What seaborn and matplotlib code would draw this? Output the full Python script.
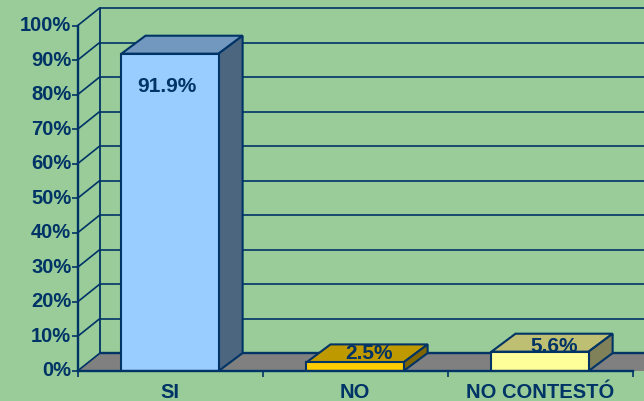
import matplotlib
matplotlib.use('Agg')
import matplotlib.pyplot as plt
import seaborn as sns
import pandas as pd
from matplotlib.patches import Polygon

categorias = ['SI', 'NO', 'NO CONTESTÓ']
valores = [91.9, 2.5, 5.6]
etiquetas = ['91.9%', '2.5%', '5.6%']
ticks_y = [0, 10, 20, 30, 40, 50, 60, 70, 80, 90, 100]

color_frente = ['#99CCFF', '#FFCC00', '#FFFF99']
color_arriba = ['#7298BF', '#BF9900', '#BFBF73']
color_lado = ['#4D6680', '#806600', '#808059']
fondo = '#99CC99'
azul = '#003366'
piso = '#808080'

# profundidad del falso 3D, en unidades de datos
dx = 0.119
dy = 5.1
dx_barra = 0.13
dy_barra = 5.2
desde_etiqueta = [(-3, -33), (14, 9), (14, 5)]

sns.set_style('white')
plt.rcParams['font.family'] = ['Liberation Sans', 'DejaVu Sans']

df = pd.DataFrame({'categoria': categorias, 'valor': valores})

fig = plt.figure(figsize=(6.44, 4.01), dpi=100, facecolor=fondo)
ax = fig.add_axes([77.5 / 644, 1 - 371 / 401, 566.5 / 644, 345.3 / 401], facecolor='none')

sns.barplot(data=df, x='categoria', y='valor', hue='categoria', palette=color_frente,
            width=0.525, saturation=1, edgecolor=azul, linewidth=1.5, legend=False,
            errorbar=None, zorder=5, ax=ax)

izq, der = -0.5, 2.562
ax.set_xlim(izq, der)
ax.set_ylim(0, 100)

# piso y paredes
ax.add_patch(Polygon([(izq, 0), (izq + dx, dy), (der + dx, dy), (der, 0)], closed=True,
                     facecolor=piso, edgecolor='none', zorder=1, clip_on=False))
ax.plot([izq + dx, der], [dy, dy], color=azul, lw=1.7, zorder=2)
ax.plot([izq, izq + dx], [0, dy], color=azul, lw=1.2, zorder=2, clip_on=False)
ax.plot([izq + dx, izq + dx], [dy, 100 + dy], color=azul, lw=1.3, zorder=2, clip_on=False)
for t in ticks_y[1:]:
    ax.plot([izq, izq + dx], [t, t + dy], color=azul, lw=1.2, zorder=2, clip_on=False)
    ax.plot([izq + dx, der], [t + dy, t + dy], color=azul, lw=1.2, zorder=2, clip_on=False)

# tapa y lado de cada barra
for i, barra in enumerate(ax.patches[:len(categorias)]):
    x0 = barra.get_x()
    x1 = x0 + barra.get_width()
    h = barra.get_height()
    ax.add_patch(Polygon([(x0, h), (x0 + dx_barra, h + dy_barra), (x1 + dx_barra, h + dy_barra), (x1, h)],
                         closed=True, facecolor=color_arriba[i], edgecolor=azul, lw=1.5, zorder=4, clip_on=False))
    ax.add_patch(Polygon([(x1, 0), (x1 + dx_barra, dy_barra), (x1 + dx_barra, h + dy_barra), (x1, h)],
                         closed=True, facecolor=color_lado[i], edgecolor=azul, lw=1.5, zorder=4, clip_on=False))
    ax.annotate(etiquetas[i], (i, h), xytext=desde_etiqueta[i], textcoords='offset pixels',
                ha='center', va='center', fontsize=15, fontweight='bold', color=azul,
                zorder=7, annotation_clip=False)

sns.despine(ax=ax, top=True, right=True)
for lado in ['left', 'bottom']:
    ax.spines[lado].set_color(azul)
    ax.spines[lado].set_linewidth(1.7)
    ax.spines[lado].set_zorder(6)
ax.spines['bottom'].set_bounds(izq, 2.5)

ax.set_xlabel('')
ax.set_ylabel('')
ax.set_yticks(ticks_y)
ax.set_yticklabels([f'{t}%' for t in ticks_y])
ax.set_xticks(range(len(categorias)))
ax.set_xticklabels(categorias)
ax.set_xticks([-0.5, 0.5, 1.5, 2.5], minor=True)
ax.tick_params(axis='x', which='major', length=0, pad=9, labelsize=14.5, labelcolor=azul)
ax.tick_params(axis='x', which='minor', length=4, width=1.2, color=azul, bottom=True)
ax.tick_params(axis='y', length=4.5, width=1.2, color=azul, pad=0, labelsize=14.5,
               labelcolor=azul, left=True)
for t in ax.get_xticklabels() + ax.get_yticklabels():
    t.set_fontweight('bold')
for t in ax.get_yticklabels():
    t.set_verticalalignment('center')
    t.set_y(t.get_position()[1])

fig.savefig('out.png', dpi=100, facecolor=fondo)
plt.close(fig)
